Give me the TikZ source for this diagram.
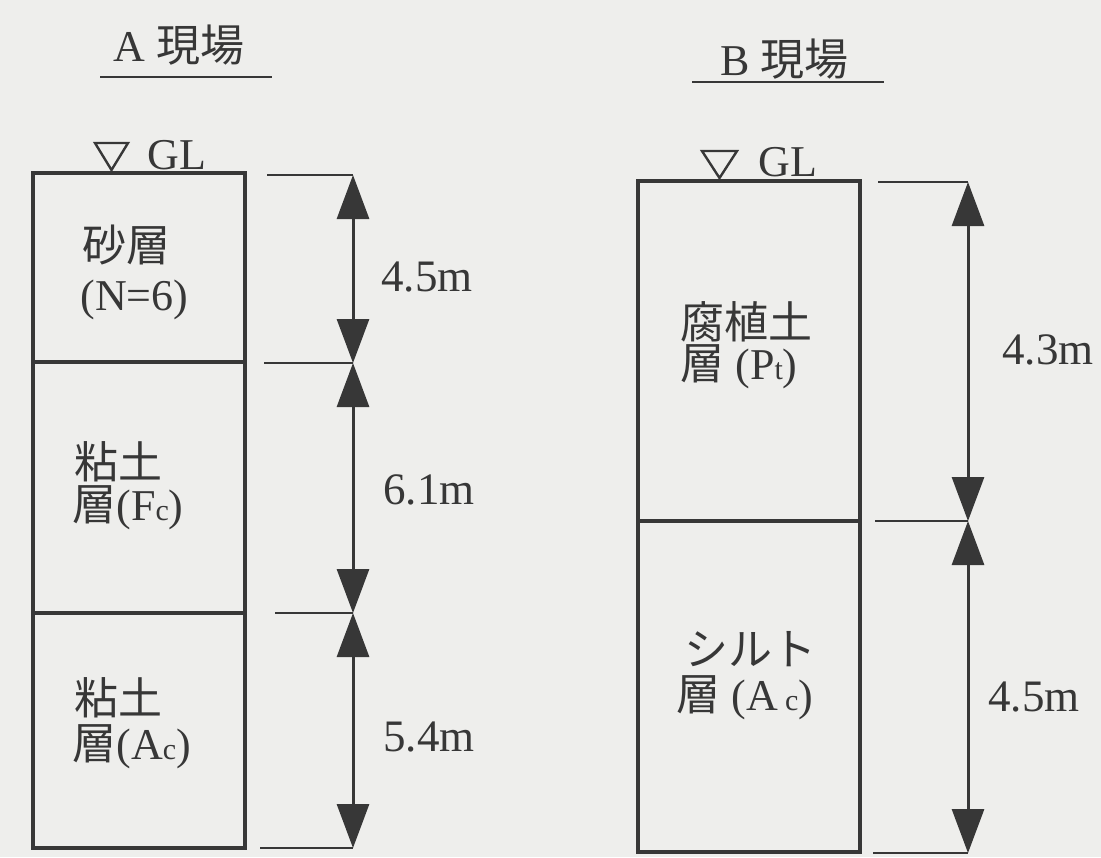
\documentclass[tikz,border=0pt]{standalone}
\usepackage{fontspec}
\setmainfont{Liberation Serif}
\newfontfamily\jp{Noto Sans CJK JP}
\usetikzlibrary{arrows.meta}
\definecolor{ink}{RGB}{55,55,55}
\definecolor{paper}{RGB}{238,238,236}
\newcommand{\sm}[1]{{\fontsize{15}{17}\selectfont #1}}
\tikzset{
 lbl/.style={anchor=west,inner sep=0pt,text=ink,font=\fontsize{22}{26}\selectfont},
 dimlbl/.style={anchor=west,inner sep=0pt,text=ink,font=\fontsize{22.5}{26}\selectfont},
 soil/.style={draw=ink,line width=1.7pt},
 ext/.style={draw=ink,line width=1.2pt},
 dimarrow/.style={draw=ink,line width=1.5pt,{Triangle[length=22pt,width=16pt]}-{Triangle[length=22pt,width=16pt]}},
 gl/.style={draw=ink,line width=1.2pt,line join=miter},
 uline/.style={draw=ink,line width=1.4pt}
}
\begin{document}
\begin{tikzpicture}[x=0.5pt,y=-0.5pt]
\useasboundingbox[fill=paper] (0,0) rectangle (1101,857);

% ---------------- A site ----------------
\node[lbl] (ta) at (113,45) {A {\jp 現場}};
\draw[uline] (100,77) -- (272,77);
\draw[gl] (95,143) -- (128,143) -- (111.5,170) -- cycle;
\node[lbl] (gla) at (147,155) {GL};

\draw[soil] (33,173) rectangle (245,848);
\draw[soil] (33,362) -- (245,362);
\draw[soil] (33,613) -- (245,613);

\node[lbl] (a1t) at (82,245) {\jp 砂層};
\node[lbl] (a1b) at (80,300) {(N=6)};
\node[lbl] (a2t) at (74,462) {\jp 粘土};
\node[lbl] (a2b) at (72,508) {{\jp 層}(F\sm{c})};
\node[lbl] (a3t) at (74,698) {\jp 粘土};
\node[lbl] (a3b) at (72,747) {{\jp 層}(A\sm{c})};

\coordinate (a0) at (353,175);
\coordinate (a1) at (353,363);
\coordinate (a2) at (353,613);
\coordinate (a3) at (353,848);
\coordinate (e0) at (267,175);
\coordinate (e1) at (264,363);
\coordinate (e2) at (275,613);
\coordinate (e3) at (260,848);
\draw[ext] (e0) -- (a0);
\draw[ext] (e1) -- (a1);
\draw[ext] (e2) -- (a2);
\draw[ext] (e3) -- (a3);
\draw[dimarrow] (a0) -- (a1);
\draw[dimarrow] (a1) -- (a2);
\draw[dimarrow] (a2) -- (a3);
\node[dimlbl] (da1) at (381,277) {4.5m};
\node[dimlbl] (da2) at (383,490) {6.1m};
\node[dimlbl] (da3) at (383,737) {5.4m};

% ---------------- B site ----------------
\node[lbl] (tb) at (720,59) {B {\jp 現場}};
\draw[uline] (692,82) -- (884,82);
\draw[gl] (702,151) -- (737,151) -- (719.5,178) -- cycle;
\node[lbl] (glb) at (758,162) {GL};

\draw[soil] (638,181) rectangle (860,852);
\draw[soil] (638,521) -- (860,521);

\node[lbl] (b1t) at (680,322) {\jp 腐植土};
\node[lbl] (b1b) at (680,367) {{\jp 層} (P\sm{t})};
\node[lbl] (b2t) at (684,649) {\jp シルト};
\node[lbl] (b2b) at (676,698) {{\jp 層} (A\,\sm{c})};

\coordinate (b0) at (968,182);
\coordinate (b1) at (968,521);
\coordinate (b2) at (968,853);
\coordinate (f0) at (878,182);
\coordinate (f1) at (875,521);
\coordinate (f2) at (873,853);
\draw[ext] (f0) -- (b0);
\draw[ext] (f1) -- (b1);
\draw[ext] (f2) -- (b2);
\draw[dimarrow] (b0) -- (b1);
\draw[dimarrow] (b1) -- (b2);
\node[dimlbl] (db1) at (1002,350) {4.3m};
\node[dimlbl] (db2) at (988,697) {4.5m};
\end{tikzpicture}
\end{document}
